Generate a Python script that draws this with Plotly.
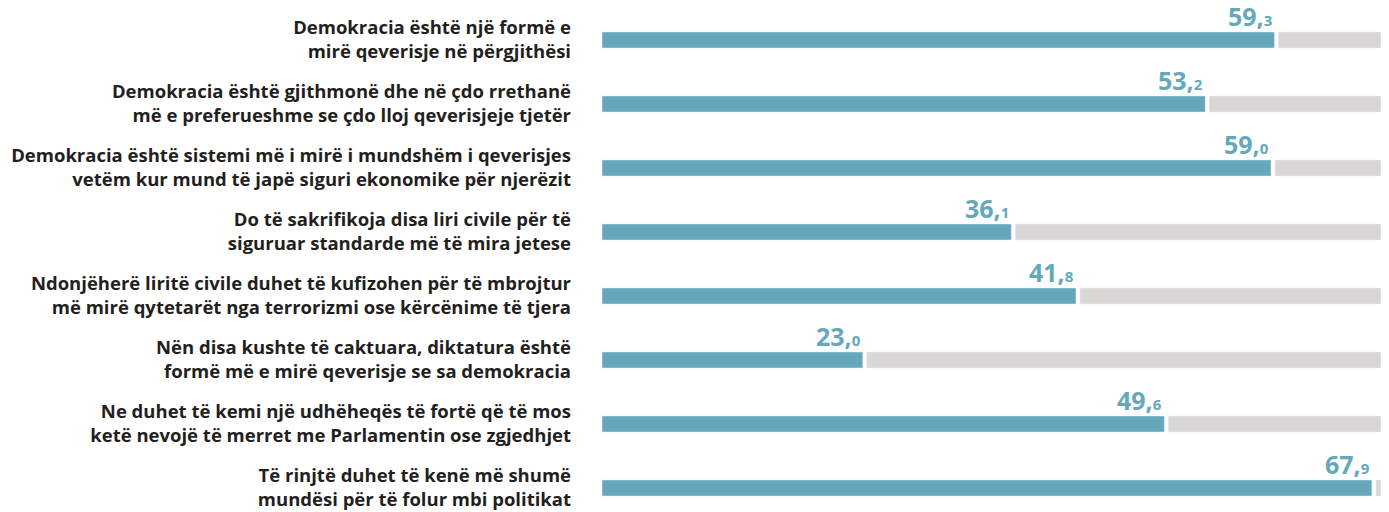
import plotly.graph_objects as go

categories = [
    "Demokracia është një formë e<br>mirë qeverisje në përgjithësi",
    "Demokracia është gjithmonë dhe në çdo rrethanë<br>më e preferueshme se çdo lloj qeverisjeje tjetër",
    "Demokracia është sistemi më i mirë i mundshëm i qeverisjes<br>vetëm kur mund të japë siguri ekonomike për njerëzit",
    "Do të sakrifikoja disa liri civile për të<br>siguruar standarde më të mira jetese",
    "Ndonjëherë liritë civile duhet të kufizohen për të mbrojtur<br>më mirë qytetarët nga terrorizmi ose kërcënime të tjera",
    "Nën disa kushte të caktuara, diktatura është<br>formë më e mirë qeverisje se sa demokracia",
    "Ne duhet të kemi një udhëheqës të fortë që të mos<br>ketë nevojë të merret me Parlamentin ose zgjedhjet",
    "Të rinjtë duhet të kenë më shumë<br>mundësi për të folur mbi politikat",
]
values = [59.3, 53.2, 59.0, 36.1, 41.8, 23.0, 49.6, 67.9]
total = 68.7
gap = 0.35

BLUE = "#66a8bb"
GRAY = "#d9d8d6"
FONT = "Open Sans"

yidx = list(range(len(categories)))

fig = go.Figure()
fig.add_trace(go.Bar(
    y=yidx, x=[total - v - gap for v in values], base=[v + gap for v in values],
    orientation="h", marker_color=GRAY, width=0.25, hoverinfo="skip",
))
fig.add_trace(go.Bar(
    y=yidx, x=values, orientation="h", marker_color=BLUE, width=0.25,
))

for i, v in enumerate(values):
    whole, dec = f"{v:.1f}".split(".")
    fig.add_annotation(
        x=v, y=i, xref="x", yref="y",
        text=f"<b>{whole},<span style='font-size:15px'>{dec}</span></b>",
        showarrow=False, xanchor="right", yanchor="bottom", yshift=5,
        font=dict(family=FONT, size=25, color=BLUE),
    )

fig.update_layout(
    width=1389, height=512, barmode="overlay", showlegend=False,
    margin=dict(l=602, r=8, t=0, b=0),
    plot_bgcolor="white", paper_bgcolor="white",
    xaxis=dict(range=[0, total], visible=False, fixedrange=True),
    yaxis=dict(
        range=[7.375, -0.625], tickvals=yidx,
        ticktext=[f"<b>{c.replace('<br>', '</b><br><b>')}</b>" for c in categories],
        showgrid=False, zeroline=False, ticks="", ticklabelstandoff=30,
        tickfont=dict(family=FONT, size=18.5, color="#231f20"),
    ),
)

fig.write_html("out.html")
